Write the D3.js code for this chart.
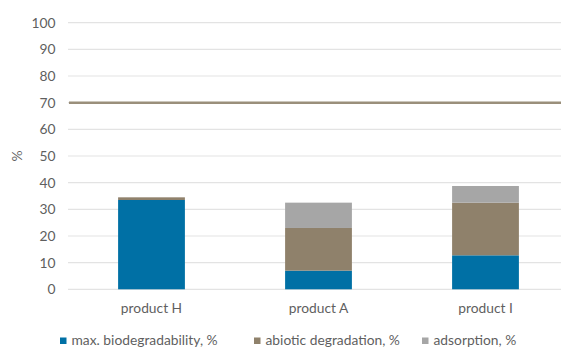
<!DOCTYPE html>
<html>
<head>
<meta charset="utf-8">
<script src="https://cdn.jsdelivr.net/npm/d3@7"></script>
<style>
  html, body { margin: 0; padding: 0; background: #fff; }
  svg text { font-family: Lato, "Open Sans", sans-serif; fill: #5f5f5f; }
</style>
</head>
<body>
<svg id="chart" width="561" height="349"></svg>
<script>
// Degradation breakdown per product (percent)
const categories = ["product H", "product A", "product I"];
const seriesNames = ["max. biodegradability, %", "abiotic degradation, %", "adsorption, %"];
const biodegradability = [33.5, 7, 12.75];
const abiotic = [1, 16, 19.75];
const adsorption = [0, 9.5, 6.25];
const yTicks = [0, 10, 20, 30, 40, 50, 60, 70, 80, 90, 100];
const threshold = 70;

const colors = ["#0070a5", "#8f816b", "#a6a6a6"];
const fontFamily = "Lato, 'Open Sans', sans-serif";
const fontSize = 13.8;

const svg = d3.select("#chart");
const margin = { left: 68, right: -8, top: 22.7, bottom: 59.7 };
const W = 561, H = 349;

const x = d3.scaleBand().domain(categories)
  .range([margin.left, W - margin.right]).paddingInner(0.6).paddingOuter(0.3);
const y = d3.scaleLinear().domain([0, 100]).range([H - margin.bottom, margin.top]);

// gridlines
svg.append("g").selectAll("line").data(yTicks).join("line")
  .attr("x1", margin.left).attr("x2", W)
  .attr("y1", d => y(d)).attr("y2", d => y(d))
  .attr("stroke", "#e3e3e3").attr("stroke-width", 1.2);

// y axis labels
const yAxis = d3.axisLeft(y).tickValues(yTicks).tickSize(0).tickPadding(0);
const gy = svg.append("g").attr("transform", `translate(${margin.left - 12.5},0)`).call(yAxis);
gy.select(".domain").remove();
gy.selectAll("text").attr("font-size", fontSize).style("font-family", fontFamily).attr("fill", "#5f5f5f");

// axis title
svg.append("text").attr("transform", `translate(22,${156}) rotate(-90)`)
  .attr("text-anchor", "middle").attr("font-size", fontSize).text("%");

// stacked bars
const rows = categories.map((c, i) => ({ cat: c, b: biodegradability[i], a: abiotic[i], s: adsorption[i] }));
const stack = d3.stack().keys(["b", "a", "s"])(rows);
svg.append("g").selectAll("g").data(stack).join("g")
  .attr("fill", (d, i) => colors[i])
  .selectAll("rect").data(d => d).join("rect")
  .attr("x", d => x(d.data.cat))
  .attr("width", x.bandwidth())
  .attr("y", d => y(d[1]))
  .attr("height", d => Math.max(0, y(d[0]) - y(d[1])));

// threshold line
svg.append("line")
  .attr("x1", margin.left + 1).attr("x2", W)
  .attr("y1", y(threshold)).attr("y2", y(threshold))
  .attr("stroke", "#9a8f7b").attr("stroke-width", 2.5);

// category labels
const xAxis = d3.axisBottom(x).tickSize(0).tickPadding(0);
const gx = svg.append("g").attr("transform", `translate(0,${y(0) + 24})`).call(xAxis);
gx.select(".domain").remove();
gx.selectAll("text").attr("font-size", fontSize).attr("dy", 0)
  .style("font-family", fontFamily).attr("fill", "#5f5f5f");

// legend
const legendX = [60, 254, 422];
const lg = svg.append("g").selectAll("g").data(seriesNames).join("g")
  .attr("transform", (d, i) => `translate(${legendX[i]},${337.5})`);
lg.append("rect").attr("width", 6.5).attr("height", 6.5).attr("y", 0).attr("fill", (d, i) => colors[i]);
lg.append("text").attr("x", 11.5).attr("y", 7.3).attr("font-size", fontSize).text(d => d);
</script>
</body>
</html>
